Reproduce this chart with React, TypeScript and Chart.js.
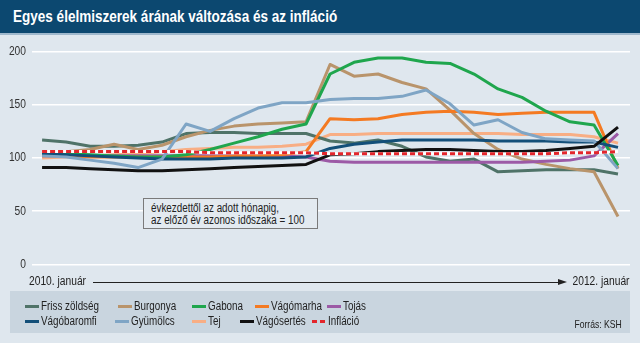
import React, { useEffect, useRef } from "react";
import { Chart, registerables } from "chart.js";

Chart.register(...registerables);

const FONT = "'Liberation Sans', Arial, sans-serif";
const NARROW = 0.82;

// Months Jan 2010 .. Jan 2012 (25 points)
const months = [
  "2010-01", "2010-02", "2010-03", "2010-04", "2010-05", "2010-06", "2010-07", "2010-08", "2010-09", "2010-10", "2010-11", "2010-12",
  "2011-01", "2011-02", "2011-03", "2011-04", "2011-05", "2011-06", "2011-07", "2011-08", "2011-09", "2011-10", "2011-11", "2011-12",
  "2012-01",
];

const frissZoldseg = [117, 115, 111, 111, 112, 115, 123, 124, 124, 123, 123, 123, 116, 114, 117, 111, 101, 97, 99, 87, 88, 89, 89, 89, 85];
const burgonya = [104, 106, 108, 113, 108, 112, 120, 126, 130, 132, 133, 134, 188, 177, 179, 171, 165, 145, 123, 108, 99, 94, 90, 87, 45];
const gabona = [105, 104, 103, 102, 101, 101, 103, 108, 114, 120, 127, 132, 179, 190, 194, 194, 190, 189, 179, 165, 157, 144, 134, 131, 93];
const vagomarha = [102, 102, 101, 101, 101, 101, 101, 101, 102, 102, 103, 106, 137, 136, 137, 141, 143, 144, 143, 141, 142, 143, 143, 143, 90];
const tojas = [102, 102, 102, 102, 102, 102, 102, 102, 102, 102, 102, 101, 97, 96, 96, 96, 96, 96, 96, 96, 96, 97, 98, 102, 123];
const vagobaromfi = [104, 103, 102, 101, 100, 99, 99, 99, 100, 100, 100, 101, 109, 113, 115, 117, 117, 117, 117, 116, 116, 116, 115, 115, 110];
const gyumolcs = [102, 101, 98, 95, 91, 99, 132, 125, 137, 147, 152, 152, 155, 156, 156, 158, 164, 151, 131, 136, 124, 118, 117, 116, 90];
const tej = [100, 101, 102, 103, 104, 106, 108, 109, 110, 110, 111, 113, 122, 122, 123, 123, 123, 123, 123, 123, 122, 122, 122, 120, 114];
const vagosertes = [91, 91, 90, 89, 88, 88, 89, 90, 91, 92, 93, 94, 103, 104, 106, 107, 108, 108, 107, 106, 106, 107, 109, 111, 129];
const inflacio = [106, 106, 106, 106, 106, 106, 106, 105, 105, 105, 105, 105, 104, 104, 104, 104, 104, 104, 104, 104, 104, 104, 105, 105, 106];

const yTicks = [0, 50, 100, 150, 200];

const seriesNames = ["Friss zöldség", "Burgonya", "Gabona", "Vágómarha", "Tojás", "Vágóbaromfi", "Gyümölcs", "Tej", "Vágósertés", "Infláció"];
const seriesColors = ["#4f7368", "#b9946b", "#1fa64d", "#f47a22", "#9c5aa6", "#134f79", "#7fa5c5", "#f8ae84", "#111111", "#e3262c"];
const seriesData = [frissZoldseg, burgonya, gabona, vagomarha, tojas, vagobaromfi, gyumolcs, tej, vagosertes, inflacio];
const seriesOrder = [9, 8, 5, 6, 7, 4, 3, 10, 2, 0];

const startLabel = "2010. január";
const endLabel = "2012. január";
const noteLines = ["évkezdettől az adott hónapig,", "az előző év azonos időszaka = 100"];
const sourceText = "Forrás: KSH";
const titleText = "Egyes élelmiszerek árának változása és az infláció";

// legend layout: [row, left]
const legendPos: [number, number][] = [
  [0, 25], [0, 118], [0, 192], [0, 255], [0, 327],
  [1, 25], [1, 115], [1, 192], [1, 240], [1, 312],
];

const narrowTickPlugin = {
  id: "narrowTicks",
  afterDraw(chart: any) {
    const scale = chart.scales.y;
    const ctx = chart.ctx;
    ctx.save();
    ctx.font = `12.5px ${FONT}`;
    ctx.fillStyle = "#333333";
    ctx.textAlign = "right";
    ctx.textBaseline = "middle";
    for (const v of yTicks) {
      const y = scale.getPixelForValue(v);
      ctx.save();
      ctx.translate(scale.right - 6, y);
      ctx.scale(NARROW, 1);
      ctx.fillText(String(v), 0, 0);
      ctx.restore();
    }
    ctx.restore();
  },
};

const N: React.FC<{ style: React.CSSProperties; origin?: string; children: React.ReactNode }> = ({ style, origin, children }) => (
  <div style={{ position: "absolute", whiteSpace: "nowrap", fontFamily: FONT, color: "#222", transform: `scaleX(${NARROW})`, transformOrigin: origin || "left top", ...style }}>
    {children}
  </div>
);

export default function App() {
  const canvasRef = useRef<HTMLCanvasElement | null>(null);

  useEffect(() => {
    const toPts = (arr: number[]) => arr.map((v, i) => ({ x: i, y: v }));
    const datasets: any[] = seriesNames.map((name, k) => ({
      label: name,
      data: toPts(seriesData[k]),
      borderColor: seriesColors[k],
      backgroundColor: seriesColors[k],
      borderWidth: 3,
      pointRadius: 0,
      tension: 0,
      borderJoinStyle: "round",
      borderCapStyle: "butt",
      borderDash: name === "Infláció" ? [5, 3] : [],
      order: seriesOrder[k],
    }));
    // white underlay for dashed inflation line
    datasets.push({
      label: "Infláció háttér",
      data: toPts(inflacio),
      borderColor: "#ffffff",
      borderWidth: 3,
      pointRadius: 0,
      tension: 0,
      order: 1,
    });

    const chart = new Chart(canvasRef.current as HTMLCanvasElement, {
      type: "line",
      data: { labels: months, datasets },
      plugins: [narrowTickPlugin],
      options: {
        animation: false,
        responsive: true,
        maintainAspectRatio: false,
        layout: { padding: { left: 0, right: 10, top: 16.7, bottom: 27.7 } },
        plugins: { legend: { display: false }, tooltip: { enabled: false } },
        scales: {
          x: {
            type: "linear",
            display: false,
            min: -0.42,
            max: 24.5,
          },
          y: {
            min: 0,
            max: 200,
            afterFit: (scale: any) => {
              scale.width = 32;
            },
            afterBuildTicks: (scale: any) => {
              scale.ticks = yTicks.map((v) => ({ value: v }));
            },
            ticks: { display: false },
            grid: { color: "#ffffff", lineWidth: 1.5, drawTicks: false },
            border: { display: false },
          },
        },
      } as any,
    });
    return () => chart.destroy();
  }, []);

  return (
    <div style={{ position: "fixed", left: 0, top: 0, width: 640, height: 343, background: "#dfe7ee", overflow: "hidden", fontFamily: FONT }}>
      <div style={{ position: "absolute", left: 0, top: 0, width: 640, height: 33, background: "#0c4870", borderBottom: "2px solid #9fb8cc" }}>
        <N style={{ left: 13, top: 0, lineHeight: "33px", color: "#fff", fontWeight: "bold", fontSize: 16.5 }}>{titleText}</N>
      </div>
      <div style={{ position: "absolute", left: 0, top: 35, width: 640, height: 257 }}>
        <canvas ref={canvasRef} />
      </div>
      {/* annotation box */}
      <div style={{ position: "absolute", left: 143, top: 198, width: 175, height: 31, border: "1px solid #7a7a7a", background: "#e3eaf0", boxSizing: "border-box" }}>
        <N style={{ left: 7, top: 3, fontSize: 12, lineHeight: "12px" }}>{noteLines[0]}</N>
        <N style={{ left: 7, top: 15, fontSize: 12, lineHeight: "12px" }}>{noteLines[1]}</N>
      </div>
      {/* x-axis row */}
      <N style={{ left: 29, top: 274, fontSize: 12.5, lineHeight: "14px" }}>{startLabel}</N>
      <div style={{ position: "absolute", left: 93, top: 282, width: 466, height: 1, background: "#222" }} />
      <div style={{ position: "absolute", left: 558, top: 279, width: 0, height: 0, borderTop: "3.5px solid transparent", borderBottom: "3.5px solid transparent", borderLeft: "9px solid #222" }} />
      <N origin="right top" style={{ right: 10, top: 274, fontSize: 12.5, lineHeight: "14px" }}>{endLabel}</N>
      {/* legend */}
      <div style={{ position: "absolute", left: 10, top: 291, width: 620, height: 42, background: "#c9d5df" }} />
      {seriesNames.map((name, k) => {
        const [row, left] = legendPos[k];
        const top = row === 0 ? 300 : 315;
        const isDash = name === "Infláció";
        return (
          <div key={name} style={{ position: "absolute", left, top, height: 13 }}>
            {isDash ? (
              <div style={{ position: "absolute", left: 0, top: 5, width: 14, height: 3 }}>
                <div style={{ position: "absolute", left: 0, top: 0, width: 5, height: 3, background: seriesColors[k] }} />
                <div style={{ position: "absolute", left: 8, top: 0, width: 5, height: 3, background: seriesColors[k] }} />
              </div>
            ) : (
              <div style={{ position: "absolute", left: 0, top: 5, width: 14, height: 3, background: seriesColors[k] }} />
            )}
            <N style={{ left: 16, top: 0, fontSize: 12, lineHeight: "13px" }}>{name}</N>
          </div>
        );
      })}
      <N origin="right top" style={{ right: 18, top: 318, fontSize: 10.5, lineHeight: "12px" }}>{sourceText}</N>
    </div>
  );
}
